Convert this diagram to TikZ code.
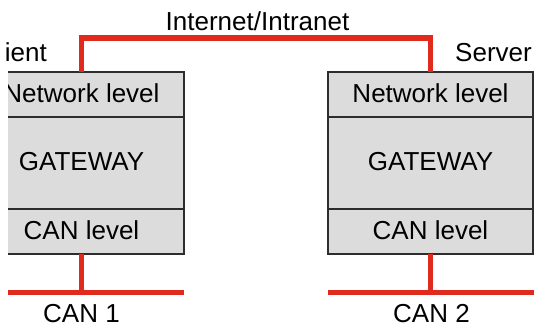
\documentclass[tikz,border=0pt]{standalone}
\usepackage{fontspec}
\setmainfont{Liberation Sans}
\definecolor{busred}{RGB}{224,42,30}
\definecolor{boxgray}{RGB}{220,220,220}
\definecolor{edgegray}{RGB}{45,45,45}
\begin{document}
\begin{tikzpicture}[x=1pt,y=-1pt,
  txt/.style={font=\fontsize{26}{31}\selectfont},
  layer/.style={txt, draw=edgegray, line width=1.4pt, fill=boxgray,
    minimum width=205pt, inner sep=0pt, text height=19pt, text depth=4pt},
  thin/.style={layer, minimum height=45pt},
  tall/.style={layer, minimum height=92pt},
  bus/.style={draw=busred, line width=5.5pt, line join=miter},
  lbl/.style={txt, inner sep=0pt}]
\useasboundingbox (0,0) rectangle (534,327);

% Internet/Intranet link between the two network levels
\coordinate (inet) at (257,38);
\node[lbl, anchor=base] (inetlbl) at (257.5,30) {Internet/Intranet};

% Server side
\coordinate (rbusW) at (328,292.5);
\coordinate (rbusE) at (534,292.5);
\node[thin] (rnet) at (430.5,94.5) {Network level};
\node[tall] (rgw) at (430.5,163) {GATEWAY};
\node[thin] (rcan) at (430.5,231.5) {CAN level};
\draw[bus] (rbusW) -- (rbusE);
\draw[bus] ([yshift=0.7pt]rcan.south) -- (rcan.south |- rbusE);
\node[lbl, anchor=base east] (srv) at (532,61) {Server};
\node[lbl, anchor=base] (can2) at (431.5,322) {CAN 2};

% Client side, cut off at the left edge
\begin{scope}
  \clip (4,0) rectangle (300,70);
  \node[lbl, anchor=base east] (cli) at (47,61) {Client};
\end{scope}
\begin{scope}
  \clip (8,0) rectangle (300,327);
  \node[thin] (lnet) at (81.5,94.5) {Network level};
  \node[tall] (lgw) at (81.5,163) {GATEWAY};
  \node[thin] (lcan) at (81.5,231.5) {CAN level};
  \coordinate (lbusW) at (0,292.5);
  \coordinate (lbusE) at (184,292.5);
  \draw[bus] (lbusW) -- (lbusE);
  \draw[bus] ([yshift=0.7pt]lcan.south) -- (lcan.south |- lbusE);
\end{scope}
\node[lbl, anchor=base] (can1) at (81.5,322) {CAN 1};

% red link from one network level to the other
\draw[bus] ([yshift=-0.7pt]lnet.north) |- (inet) -| ([yshift=-0.7pt]rnet.north);
\end{tikzpicture}
\end{document}
